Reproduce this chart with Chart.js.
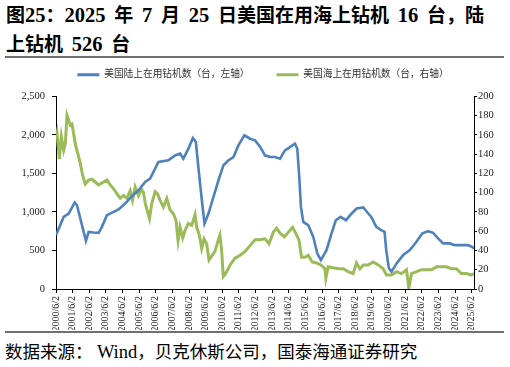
<!DOCTYPE html>
<html>
<head>
<meta charset="utf-8">
<script src="https://cdn.jsdelivr.net/npm/chart.js@4.4.1/dist/chart.umd.min.js"></script>
<style>
  html, body { margin: 0; padding: 0; background: #fff; }
  body { width: 510px; height: 367px; position: relative; overflow: hidden; }
  #title { position: absolute; left: 6px; top: 1px; font-family: 'Liberation Serif', 'Times New Roman', 'Noto Sans CJK SC', serif; font-weight: bold; font-size: 19px; line-height: 28px; color: #000; word-spacing: 4px; white-space: nowrap; }
  #title .n { font-size: 20.5px; }
  .rule { position: absolute; left: 5px; width: 499px; height: 2px; background: #707070; }
  #source { position: absolute; left: 5px; top: 340px; font-family: 'Liberation Serif', 'Times New Roman', 'Noto Sans CJK SC', serif; font-size: 17.5px; line-height: 24px; color: #000; white-space: nowrap; }
  #source .n { font-size: 18.5px; }
  #wrap { position: absolute; left: 0; top: 60px; width: 510px; height: 270px; }
</style>
</head>
<body>
<div id="title">图<span class="n">25</span>：<span class="n">2025</span> 年 <span class="n">7</span> 月 <span class="n">25</span> 日美国在用海上钻机 <span class="n">16</span> 台，陆<br>上钻机 <span class="n">526</span> 台</div>
<div class="rule" style="top:56px"></div>
<div id="wrap"><canvas id="c" width="510" height="270"></canvas></div>
<div class="rule" style="top:331px"></div>
<div id="source">数据来源： <span class="n">Wind</span>，贝克休斯公司，国泰海通证券研究</div>
<script>
// ---- data (decimal years) ----
const xTickLabels = ['2000/6/2','2001/6/2','2002/6/2','2003/6/2','2004/6/2','2005/6/2','2006/6/2','2007/6/2','2008/6/2','2009/6/2','2010/6/2','2011/6/2','2012/6/2','2013/6/2','2014/6/2','2015/6/2','2016/6/2','2017/6/2','2018/6/2','2019/6/2','2020/6/2','2021/6/2','2022/6/2','2023/6/2','2024/6/2','2025/6/2'];
const leftTicks = [0, 500, 1000, 1500, 2000, 2500];
const rightTicks = [0, 20, 40, 60, 80, 100, 120, 140, 160, 180, 200];

const landLabel = '美国陆上在用钻机数（台，左轴）';
const landYears = [2000.42, 2000.88, 2001.18, 2001.54, 2001.68, 2001.98, 2002.22, 2002.38, 2002.68, 2002.98, 2003.18, 2003.48, 2003.88, 2004.18, 2004.58, 2004.98, 2005.38, 2005.78, 2006.08, 2006.58, 2007.18, 2007.58, 2007.88, 2008.08, 2008.38, 2008.65, 2008.83, 2008.98, 2009.19, 2009.35, 2009.59, 2009.89, 2010.19, 2010.49, 2010.79, 2011.09, 2011.39, 2011.75, 2012.09, 2012.39, 2012.69, 2012.99, 2013.29, 2013.59, 2013.89, 2014.19, 2014.49, 2014.79, 2014.93, 2015.05, 2015.15, 2015.29, 2015.59, 2015.89, 2016.13, 2016.35, 2016.69, 2016.99, 2017.25, 2017.53, 2017.86, 2018.2, 2018.5, 2018.9, 2019.2, 2019.38, 2019.68, 2019.98, 2020.18, 2020.28, 2020.44, 2020.6, 2020.9, 2021.3, 2021.7, 2022.1, 2022.44, 2022.8, 2023.1, 2023.4, 2023.7, 2024.1, 2024.4, 2024.8, 2025.2, 2025.45, 2025.56];
const landValues = [700, 935, 979, 1121, 1086, 828, 625, 741, 733, 728, 806, 957, 1000, 1031, 1108, 1203, 1280, 1388, 1432, 1647, 1668, 1733, 1755, 1690, 1820, 1957, 1905, 1582, 1151, 850, 979, 1194, 1410, 1604, 1668, 1711, 1862, 1992, 1949, 1927, 1845, 1733, 1711, 1711, 1690, 1798, 1840, 1884, 1820, 1453, 1064, 870, 828, 677, 462, 375, 504, 720, 892, 935, 892, 979, 1044, 1057, 979, 935, 806, 763, 741, 504, 268, 224, 332, 440, 504, 612, 720, 750, 728, 656, 591, 591, 569, 569, 569, 545, 526];

const offLabel = '美国海上在用钻机数（台，右轴）';
const offYears = [2000.42, 2000.48, 2000.62, 2000.74, 2000.88, 2000.98, 2001.08, 2001.18, 2001.28, 2001.38, 2001.48, 2001.62, 2001.74, 2001.88, 2002.02, 2002.18, 2002.38, 2002.58, 2002.78, 2002.98, 2003.28, 2003.48, 2003.68, 2003.88, 2004.08, 2004.28, 2004.48, 2004.68, 2004.88, 2005.02, 2005.18, 2005.38, 2005.54, 2005.68, 2005.8, 2006.04, 2006.18, 2006.38, 2006.52, 2006.68, 2006.88, 2007.08, 2007.28, 2007.48, 2007.64, 2007.76, 2007.88, 2008.04, 2008.18, 2008.38, 2008.58, 2008.78, 2008.88, 2009.04, 2009.18, 2009.32, 2009.48, 2009.62, 2009.78, 2009.98, 2010.18, 2010.28, 2010.38, 2010.48, 2010.58, 2010.78, 2010.89, 2011.19, 2011.49, 2011.79, 2012.09, 2012.39, 2012.69, 2012.99, 2013.23, 2013.49, 2013.69, 2013.89, 2014.15, 2014.39, 2014.65, 2014.83, 2015.03, 2015.19, 2015.39, 2015.59, 2015.83, 2016.09, 2016.35, 2016.59, 2016.65, 2016.79, 2017.09, 2017.39, 2017.69, 2017.99, 2018.29, 2018.49, 2018.7, 2018.9, 2019.2, 2019.5, 2019.8, 2020.1, 2020.3, 2020.6, 2020.9, 2021.2, 2021.5, 2021.64, 2021.8, 2022.1, 2022.4, 2022.7, 2023.0, 2023.3, 2023.6, 2023.9, 2024.2, 2024.5, 2024.8, 2025.1, 2025.4, 2025.56];
const offValues = [155, 161, 135, 158, 144, 151, 180, 175, 170, 171, 161, 147, 140, 130, 118, 109, 113, 114, 111, 108, 111, 113, 108, 104, 99, 94, 97, 94, 102, 92, 106, 97, 104, 100, 88, 73, 89, 101, 99, 92, 85, 94, 82, 78, 71, 50, 64, 53, 61, 68, 66, 77, 64, 56, 42, 52, 47, 30, 34, 39, 51, 56, 40, 13, 15, 21, 25, 32, 35, 39, 45, 51, 51, 52, 47, 59, 63, 58, 54, 59, 64, 58, 51, 33, 33, 35, 28, 27, 25, 21, 11, 23, 22, 21, 21, 18, 16, 27, 21, 25, 25, 28, 25, 21, 14.5, 14.5, 18, 16, 20, 1, 16, 18, 20, 20, 20, 23, 23, 23, 21, 21, 16, 16, 14.5, 16];

// ---- helpers ----
function labelToYear(lbl) {
  const [y, m, d] = lbl.split('/').map(Number);
  const start = Date.UTC(y, 0, 1), cur = Date.UTC(y, m - 1, d), end = Date.UTC(y + 1, 0, 1);
  return y + (cur - start) / (end - start);
}
const xTickValues = xTickLabels.map(labelToYear);
const pts = (xs, ys) => xs.map((x, i) => ({ x: x, y: ys[i] }));

const BLUE = '#4F81BD', GREEN = '#9BBB59';
const tickFont = { family: "'Liberation Serif', 'Times New Roman', serif", size: 10.5 };

const legendSpacer = {
  id: 'legendSpacer',
  beforeInit(chart) {
    if (!chart.legend) return;
    const orig = chart.legend.fit;
    chart.legend.fit = function () { orig.call(this); this.height += 6.5; };
  },
  afterLayout(chart) {
    if (!chart.legend) return;
    chart.legend.left += 8;
    chart.legend.right += 8;
  }
};

new Chart(document.getElementById('c'), {
  type: 'line',
  data: {
    datasets: [
      { label: landLabel, data: pts(landYears, landValues), yAxisID: 'y', borderColor: BLUE, backgroundColor: BLUE, borderWidth: 2.6, pointRadius: 0, tension: 0 },
      { label: offLabel, data: pts(offYears, offValues), yAxisID: 'y1', borderColor: GREEN, backgroundColor: GREEN, borderWidth: 3, pointRadius: 0, tension: 0 }
    ]
  },
  options: {
    responsive: false,
    animation: false,
    devicePixelRatio: 1,
    layout: { padding: 0 },
    plugins: {
      tooltip: { enabled: false },
      legend: {
        position: 'top',
        labels: {
          boxWidth: 22, boxHeight: 3, padding: 10, color: '#333',
          font: { family: "'Liberation Serif', 'Noto Sans CJK SC', serif", size: 9.7 },
          generateLabels(chart) {
            const base = Chart.defaults.plugins.legend.labels.generateLabels(chart);
            return base.map((l, i) => Object.assign(l, { lineWidth: 0, fillStyle: l.strokeStyle, text: i === 0 ? l.text + '\u3000\u3000 ' : l.text }));
          }
        }
      }
    },
    scales: {
      x: {
        type: 'linear',
        min: xTickValues[0],
        max: 2025.56,
        afterBuildTicks(scale) { scale.ticks = xTickValues.map(v => ({ value: v })); },
        afterFit(scale) { scale.height = 41; },
        ticks: { autoSkip: false, maxRotation: 90, minRotation: 90, padding: 3, color: '#222', font: { family: tickFont.family, size: 10 },
                 callback: (v, i) => xTickLabels[i] },
        grid: { drawOnChartArea: false, drawTicks: true, tickLength: 4, color: '#000' },
        border: { display: true, color: '#000', width: 1 }
      },
      y: {
        position: 'left',
        min: 0, max: 2500,
        afterBuildTicks(scale) { scale.ticks = leftTicks.map(v => ({ value: v })); },
        afterFit(scale) { scale.width = 56; },
        ticks: { padding: 7, color: '#222', font: tickFont, callback: v => v.toLocaleString('en-US') },
        grid: { drawOnChartArea: false, drawTicks: true, tickLength: 4, color: '#000' },
        border: { display: true, color: '#000', width: 1 }
      },
      y1: {
        position: 'right',
        min: 0, max: 200,
        afterBuildTicks(scale) { scale.ticks = rightTicks.map(v => ({ value: v })); },
        afterFit(scale) { scale.width = 36; },
        ticks: { padding: 1, color: '#222', font: tickFont },
        grid: { drawOnChartArea: false, drawTicks: true, tickLength: 3, color: '#000' },
        border: { display: true, color: '#000', width: 1 }
      }
    }
  },
  plugins: [legendSpacer]
});
</script>
</body>
</html>
